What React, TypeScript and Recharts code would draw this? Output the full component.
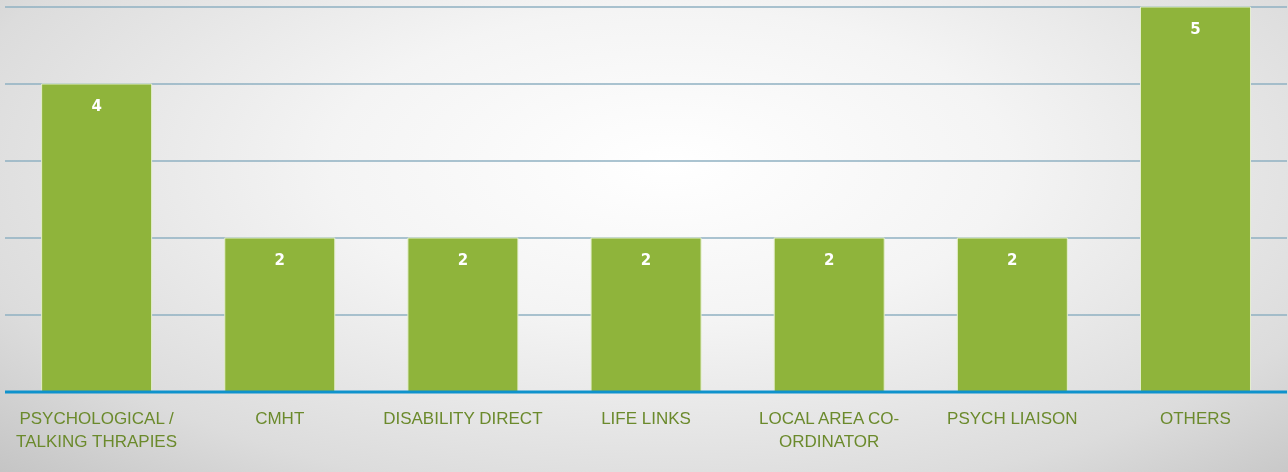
import React from "react";
import { BarChart, Bar, XAxis, YAxis, CartesianGrid, LabelList } from "recharts";

const categories = [
  "PSYCHOLOGICAL / TALKING THRAPIES",
  "CMHT",
  "DISABILITY DIRECT",
  "LIFE LINKS",
  "LOCAL AREA CO-ORDINATOR",
  "PSYCH LIAISON",
  "OTHERS",
];
const values = [4, 2, 2, 2, 2, 2, 5];
const yTicks = [0, 1, 2, 3, 4, 5];

const data = categories.map((name, i) => ({ name, value: values[i] }));

const wrapLines = (text: string, maxChars: number): string[] => {
  const words = text.split(" ");
  const lines: string[] = [];
  let cur = "";
  for (const w of words) {
    const t = cur ? cur + " " + w : w;
    if (t.length > maxChars && cur) {
      lines.push(cur);
      cur = w;
    } else cur = t;
  }
  if (cur) lines.push(cur);
  return lines;
};

const manualLines: Record<string, string[]> = {
  "PSYCHOLOGICAL / TALKING THRAPIES": ["PSYCHOLOGICAL /", "TALKING THRAPIES"],
  "LOCAL AREA CO-ORDINATOR": ["LOCAL AREA CO-", "ORDINATOR"],
};

const Tick = (props: any) => {
  const { x, y, payload } = props;
  const lines = manualLines[payload.value] || wrapLines(payload.value, 20);
  return (
    <g transform={`translate(${x},${y})`}>
      {lines.map((l, i) => (
        <text
          key={i}
          x={0}
          y={24 + i * 23}
          textAnchor="middle"
          fill="#6b8a2c"
          fontSize={17}
          fontFamily="'Liberation Sans', Arial, sans-serif"
        >
          {l}
        </text>
      ))}
    </g>
  );
};

export default function App() {
  return (
    <div
      style={{
        position: "fixed",
        left: 0,
        top: 0,
        width: 1288,
        height: 472,
        background:
          "radial-gradient(ellipse 75% 95% at 52% 35%, #ffffff 0%, #f4f4f4 35%, #dcdcdc 75%, #c2c2c2 100%)",
      }}
    >
      <BarChart
        width={1288}
        height={472}
        data={data}
        margin={{ top: 7, right: 1, bottom: 0, left: 5 }}
        barCategoryGap="20%"
      >
        <CartesianGrid
          horizontal
          vertical={false}
          stroke="#8fb0c2"
          strokeWidth={1.5}
        />
        <YAxis hide domain={[0, 5]} ticks={yTicks} />
        <XAxis
          dataKey="name"
          axisLine={{ stroke: "#0f92cc", strokeWidth: 3 }}
          tickLine={false}
          tick={<Tick />}
          interval={0}
          height={80}
        />
        <Bar
          dataKey="value"
          fill="#8fb43b"
          stroke="#e4eecd"
          strokeWidth={1}
          isAnimationActive={false}
        >
          <LabelList
            dataKey="value"
            position="insideTop"
            offset={16}
            fill="#ffffff"
            fontSize={15}
            fontWeight="bold"
            fontFamily="'DejaVu Sans', Verdana, sans-serif"
          />
        </Bar>
      </BarChart>
    </div>
  );
}
